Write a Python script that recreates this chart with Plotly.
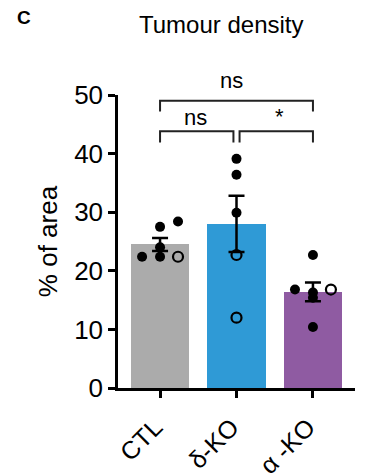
import plotly.graph_objects as go

categories = ["CTL", "δ-KO", "α -KO"]
means = [24.5, 28.0, 16.4]
sems = [1.1, 4.8, 1.6]
bar_colors = ["#ABABAB", "#2F9AD6", "#8F5BA2"]

# individual points: (category index, jitter, value, filled?)
ctl_vals = [27.5, 28.4, 22.4, 24.0, 22.4, 22.4]
ctl_jit = [0.0, 0.235, -0.235, 0.0, 0.0, 0.235]
ctl_fill = [True, True, True, True, True, False]

dko_vals = [39.1, 36.4, 29.9, 22.7, 12.0]
dko_jit = [0.0, 0.0, 0.0, 0.0, 0.0]
dko_fill = [True, True, True, False, False]

ako_vals = [22.7, 16.8, 16.8, 10.4, 16.3, 15.4]
ako_jit = [0.0, -0.235, 0.235, 0.0, 0.0, 0.0]
ako_fill = [True, True, False, True, True, True]

FONT = "Arial, Liberation Sans, sans-serif"

fig = go.Figure()
fig.add_trace(go.Bar(x=[0, 1, 2], y=means, marker=dict(color=bar_colors, line=dict(width=0)),
                     width=0.76, showlegend=False))

groups = [(ctl_vals, ctl_jit, ctl_fill), (dko_vals, dko_jit, dko_fill), (ako_vals, ako_jit, ako_fill)]
fx, fy, ox, oy = [], [], [], []
for i, (vals, jit, fill) in enumerate(groups):
    for v, j, f in zip(vals, jit, fill):
        if f:
            fx.append(i + j); fy.append(v)
        else:
            ox.append(i + j); oy.append(v)

fig.add_trace(go.Scatter(x=fx, y=fy, mode="markers",
                         marker=dict(color="black", size=10, symbol="circle"), showlegend=False))
fig.add_trace(go.Scatter(x=ox, y=oy, mode="markers",
                         marker=dict(color="black", size=10, symbol="circle-open", line=dict(width=2.2)),
                         showlegend=False))
fig.add_trace(go.Scatter(x=[0, 1, 2], y=means, mode="markers", marker=dict(size=1, opacity=0),
                         error_y=dict(type="data", array=sems, color="black", thickness=2.5, width=8),
                         showlegend=False))

# significance brackets
brackets = [(0, 2, 49.0, 47.2), (0, 0.96, 43.8, 41.9), (1.04, 2, 43.8, 41.9)]
for x0, x1, yt, yb in brackets:
    fig.add_shape(type="path", xref="x", yref="y",
                  path=f"M {x0} {yb} L {x0} {yt} L {x1} {yt} L {x1} {yb}",
                  line=dict(color="#222222", width=2))

anns = [(0.46, 46.1, "ns"), (1.56, 46.3, "*")]
for x, y, t in anns:
    fig.add_annotation(x=x, y=y, xref="x", yref="y", text=t, showarrow=False,
                       font=dict(family=FONT, size=22, color="black"))
fig.add_annotation(x=0.4775, y=1.051, xref="paper", yref="paper", text="ns", showarrow=False,
                   font=dict(family=FONT, size=22, color="black"), xanchor="center", yanchor="middle")

fig.add_annotation(x=0.435, y=1.242, xref="paper", yref="paper", text="Tumour density", showarrow=False,
                   font=dict(family=FONT, size=24, color="black"), xanchor="center", yanchor="middle")
fig.add_annotation(x=-0.397, y=1.265, xref="paper", yref="paper", text="<b>C</b>", showarrow=False,
                   font=dict(family=FONT, size=19, color="black"), xanchor="center", yanchor="middle")

fig.update_layout(
    width=373, height=467,
    margin=dict(l=110, r=26, t=87, b=87),
    paper_bgcolor="white", plot_bgcolor="white",
    bargap=0,
    font=dict(family=FONT, color="black"),
)
fig.update_xaxes(range=[-0.55, 2.55], tickmode="array", tickvals=[0, 1, 2],
                 ticktext=[c + "\u00a0" for c in categories],
                 tickangle=-45, tickfont=dict(size=25), showline=True, linecolor="black", linewidth=2.5,
                 ticks="outside", ticklen=7, tickwidth=2.5, tickcolor="black", showgrid=False, zeroline=False,
                 automargin=False)
fig.update_yaxes(range=[0, 50], tickvals=[0, 10, 20, 30, 40, 50], tickfont=dict(size=26),
                 title=dict(text="% of area", font=dict(size=26), standoff=10),
                 showline=True, linecolor="black", linewidth=2.5,
                 ticks="outside", ticklen=7, tickwidth=2.5, tickcolor="black", showgrid=False, zeroline=False,
                 automargin=False)

fig.write_html("out.html")
